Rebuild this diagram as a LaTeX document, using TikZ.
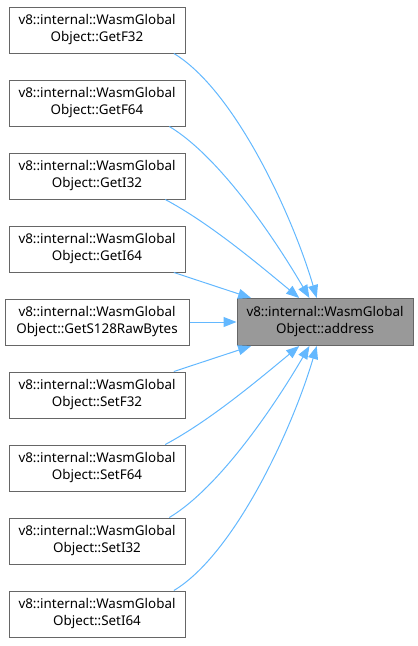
\documentclass[tikz,border=0pt]{standalone}
\usepackage{fontspec}
\setmainfont{Noto Sans}
\usepackage{xcolor}
\usetikzlibrary{arrows.meta, positioning}

\definecolor{boxline}{HTML}{666666}
\definecolor{boxgray}{HTML}{999999}
\definecolor{edgeblue}{HTML}{63B8FF}

\begin{document}
\begin{tikzpicture}[
        x=1pt, y=-1pt,
        node distance=26pt and 47pt,
        funcbox/.style={
            rectangle,
            draw=boxline,
            fill=white,
            line width=1pt,
            minimum width=176pt,
            minimum height=46pt,
            inner sep=2pt,
            align=center,
            font=\fontsize{13.4}{17}\selectfont
        },
        target/.style={
            funcbox,
            fill=boxgray,
            minimum height=47pt
        },
        arrow/.style={-{Triangle[length=13pt, width=10pt]}, line width=1pt, draw=edgeblue}
    ]
    \useasboundingbox (0,0) rectangle (418,646);

    \node (gf32) [funcbox] at (97,30) {v8::internal::WasmGlobal\\Object::GetF32};
    \node (gf64) [funcbox, below=of gf32] {v8::internal::WasmGlobal\\Object::GetF64};
    \node (gi32) [funcbox, below=of gf64] {v8::internal::WasmGlobal\\Object::GetI32};
    \node (gi64) [funcbox, below=of gi32] {v8::internal::WasmGlobal\\Object::GetI64};
    \node (gs128) [funcbox, minimum width=184pt, below=of gi64] {v8::internal::WasmGlobal\\Object::GetS128RawBytes};
    \node (sf32) [funcbox, below=of gs128] {v8::internal::WasmGlobal\\Object::SetF32};
    \node (sf64) [funcbox, below=of sf32] {v8::internal::WasmGlobal\\Object::SetF64};
    \node (si32) [funcbox, below=of sf64] {v8::internal::WasmGlobal\\Object::SetI32};
    \node (si64) [funcbox, below=of si32] {v8::internal::WasmGlobal\\Object::SetI64};

    \node (addr) [target, right=of gs128] {v8::internal::WasmGlobal\\Object::address};

    \draw [arrow] (gf32.-17) .. controls +(60,36) and +(-25,-85) .. (addr.109);
    \draw [arrow] (gf64.-18) .. controls +(50,30) and +(-35,-60) .. (addr.123);
    \draw [arrow] (gi32.-19) .. controls +(45,24) and +(-40,-33) .. (addr.137);
    \draw [arrow] (gi64.-17) -- (addr.162);
    \draw [arrow] (gs128) -- (addr);
    \draw [arrow] (sf32.17) -- (addr.-162);
    \draw [arrow] (sf64.19) .. controls +(45,-24) and +(-40,33) .. (addr.-137);
    \draw [arrow] (si32.18) .. controls +(50,-30) and +(-35,60) .. (addr.-123);
    \draw [arrow] (si64.17) .. controls +(60,-36) and +(-25,85) .. (addr.-109);

\end{tikzpicture}
\end{document}
